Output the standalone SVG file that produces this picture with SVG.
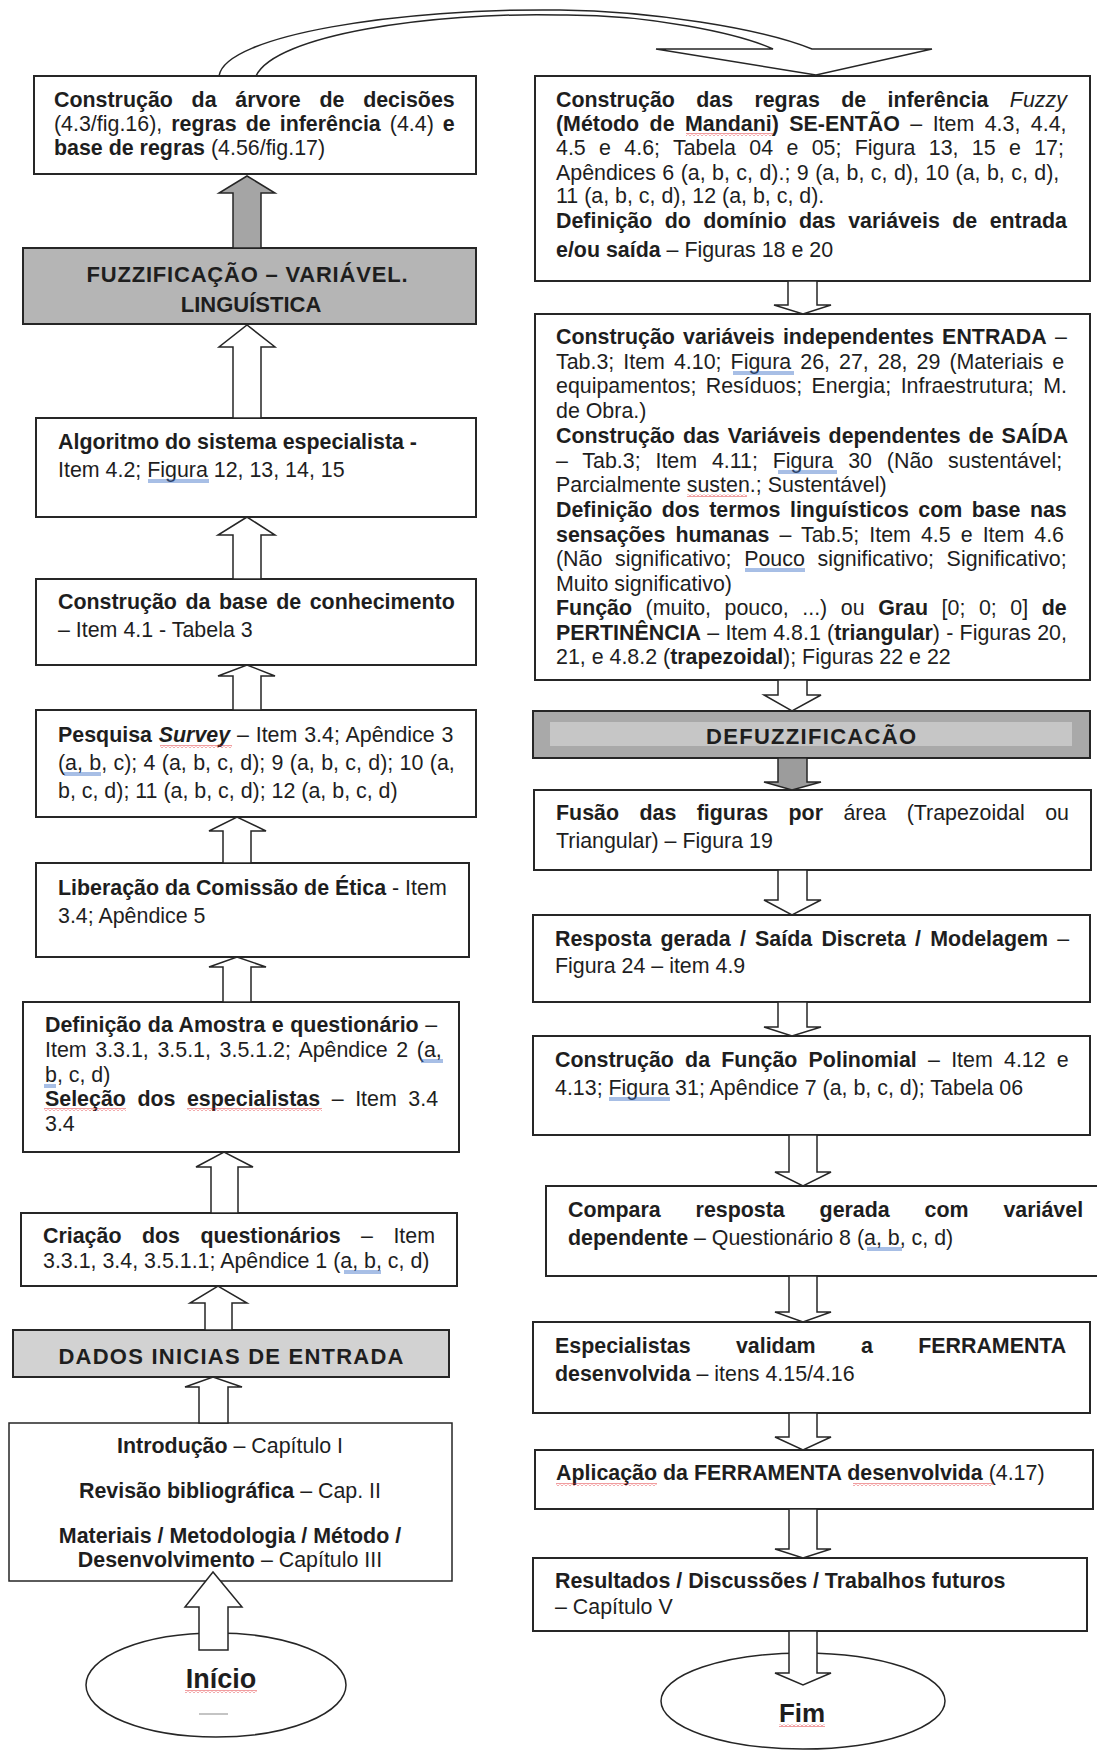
<svg xmlns="http://www.w3.org/2000/svg" width="1097" height="1751" viewBox="0 0 1097 1751">
<style>
.bx{fill:#fff;stroke:#262626;stroke-width:2}
.bxl{fill:#fff;stroke:#262626;stroke-width:1.5}
.g1{fill:#b5b5b5;stroke:#262626;stroke-width:2}
.g2{fill:#d2d2d2;stroke:#262626;stroke-width:2}
.g3{fill:#a9a9a9;stroke:#262626;stroke-width:2}
.ar{fill:#fff;stroke:#262626;stroke-width:1.5;stroke-linejoin:miter}
.arg{fill:#a5a5a5;stroke:#262626;stroke-width:1.5}
.t{font-family:"Liberation Sans",Arial,sans-serif;font-size:21.4px;fill:#1e1e1e}
.h{font-family:"Liberation Sans",Arial,sans-serif;font-weight:700;fill:#1e1e1e}
.b{font-weight:700}
.i{font-style:italic}
.c{text-anchor:middle}
.ul{stroke:#3d6fc6;stroke-width:0.9;fill:none}
</style>
<defs>
<pattern id="wavy" width="4" height="3" patternUnits="userSpaceOnUse">
<path d="M0,2.5 L2,0.5 L4,2.5" fill="none" stroke="#e0262a" stroke-width="0.9"/>
</pattern>
</defs>

<g id="connectors">
<path id="curved" class="ar" d="M219,76 C225,35 400,8 560,10 C650,11 760,28 812,49 L932,49 L816,75 L656,49 L773,49 C740,34 650,14 560,15 C430,12 275,35 256,76 Z"/>
</g>

<g id="nodes">
<g id="n-arvore">
<rect class="bx" x="34" y="76" width="442" height="98"/>
<text class="t b" x="54" y="107" style="word-spacing:12.8px">Construção da árvore de decisões</text>
<text class="t" x="54" y="131" style="word-spacing:3.1px">(4.3/fig.16), <tspan class="b">regras de inferência</tspan> (4.4) <tspan class="b">e</tspan></text>
<text class="t" x="54" y="155"><tspan class="b">base de regras</tspan> (4.56/fig.17)</text>
</g>
<g id="n-fuzz">
<rect class="g1" x="23" y="248" width="453" height="76"/>
<text class="h c" x="247" y="282" font-size="22" textLength="321" lengthAdjust="spacing">FUZZIFICAÇÃO – VARIÁVEL.</text>
<text class="h c" x="251" y="312" font-size="22">LINGUÍSTICA</text>
</g>
<g id="n-algoritmo">
<rect class="bx" x="36" y="418" width="440" height="99"/>
<text class="t b" x="58" y="449">Algoritmo do sistema especialista -</text>
<text class="t" x="58" y="477">Item 4.2; Figura 12, 13, 14, 15</text>
</g>
<g id="n-base">
<rect class="bx" x="36" y="579" width="440" height="86"/>
<text class="t b" x="58" y="609" style="word-spacing:2.6px">Construção da base de conhecimento</text>
<text class="t" x="58" y="637">– Item 4.1 - Tabela 3</text>
</g>
<g id="n-pesquisa">
<rect class="bx" x="36" y="710" width="440" height="107"/>
<text class="t" x="58" y="742" style="word-spacing:0.9px"><tspan class="b">Pesquisa </tspan><tspan class="b i">Survey</tspan> – Item 3.4; Apêndice 3</text>
<text class="t" x="58" y="770" style="word-spacing:0.4px">(a, b, c); 4 (a, b, c, d); 9 (a, b, c, d); 10 (a,</text>
<text class="t" x="58" y="798">b, c, d); 11 (a, b, c, d); 12 (a, b, c, d)</text>
</g>
<g id="n-liberacao">
<rect class="bx" x="36" y="863" width="433" height="94"/>
<text class="t" x="58" y="895"><tspan class="b">Liberação da Comissão de Ética</tspan> - Item</text>
<text class="t" x="58" y="923">3.4; Apêndice 5</text>
</g>
<g id="n-definicao">
<rect class="bx" x="23" y="1002" width="436" height="150"/>
<text class="t" x="45" y="1032" style="word-spacing:0.6px"><tspan class="b">Definição da Amostra e questionário</tspan> –</text>
<text class="t" x="45" y="1057" style="word-spacing:2.7px">Item 3.3.1, 3.5.1, 3.5.1.2; Apêndice 2 (a,</text>
<text class="t" x="45" y="1082">b, c, d)</text>
<text class="t" x="45" y="1106" style="word-spacing:5.6px"><tspan class="b">Seleção dos especialistas</tspan> – Item 3.4</text>
<text class="t" x="45" y="1131">3.4</text>
</g>
<g id="n-criacao">
<rect class="bx" x="21" y="1213" width="436" height="73"/>
<text class="t" x="43" y="1243" style="word-spacing:14.5px"><tspan class="b">Criação dos questionários</tspan> – Item</text>
<text class="t" x="43" y="1268">3.3.1, 3.4, 3.5.1.1; Apêndice 1 (a, b, c, d)</text>
</g>
<g id="n-dados">
<rect class="g2" x="13" y="1330" width="436" height="47"/>
<text class="h c" x="231" y="1364" font-size="22" textLength="345" lengthAdjust="spacing">DADOS INICIAS DE ENTRADA</text>
</g>
<g id="n-intro">
<rect class="bxl" x="9" y="1423" width="443" height="158"/>
<text class="t c" x="230" y="1453"><tspan class="b">Introdução</tspan> – Capítulo I</text>
<text class="t c" x="230" y="1498"><tspan class="b">Revisão bibliográfica</tspan> – Cap. II</text>
<text class="t c b" x="230" y="1543">Materiais / Metodologia / Método /</text>
<text class="t c" x="230" y="1567"><tspan class="b">Desenvolvimento</tspan> – Capítulo III</text>
</g>
<g id="n-inicio">
<ellipse class="bxl" cx="216" cy="1685" rx="130" ry="52"/>
<text class="h c" x="221" y="1688" font-size="27">Início</text>
<line x1="199" y1="1714" x2="228" y2="1714" stroke="#b0b0b0" stroke-width="1.5"/>
</g>

<g id="n-regras">
<rect class="bx" x="535" y="76" width="555" height="205"/>
<text class="t" x="556" y="107" style="word-spacing:15.4px"><tspan class="b">Construção das regras de inferência </tspan><tspan class="i">Fuzzy</tspan></text>
<text class="t" x="556" y="131" style="word-spacing:4.5px"><tspan class="b">(Método de Mandani) SE-ENTÃO</tspan> – Item 4.3, 4.4,</text>
<text class="t" x="556" y="155" style="word-spacing:7.4px">4.5 e 4.6; Tabela 04 e 05; Figura 13, 15 e 17;</text>
<text class="t" x="556" y="180" style="word-spacing:0.5px">Apêndices 6 (a, b, c, d).; 9 (a, b, c, d), 10 (a, b, c, d),</text>
<text class="t" x="556" y="203">11 (a, b, c, d), 12 (a, b, c, d).</text>
<text class="t b" x="556" y="228" style="word-spacing:6.5px">Definição do domínio das variáveis de entrada</text>
<text class="t" x="556" y="257"><tspan class="b">e/ou saída</tspan> – Figuras 18 e 20</text>
</g>
<g id="n-variaveis">
<rect class="bx" x="535" y="314" width="555" height="366"/>
<text class="t" x="556" y="344" style="word-spacing:2.3px"><tspan class="b">Construção variáveis independentes ENTRADA</tspan> –</text>
<text class="t" x="556" y="369" style="word-spacing:3.1px">Tab.3; Item 4.10; Figura 26, 27, 28, 29 (Materiais e</text>
<text class="t" x="556" y="393" style="word-spacing:3.5px">equipamentos; Resíduos; Energia; Infraestrutura; M.</text>
<text class="t" x="556" y="418">de Obra.)</text>
<text class="t b" x="556" y="443" style="word-spacing:2.1px">Construção das Variáveis dependentes de SAÍDA</text>
<text class="t" x="556" y="468" style="word-spacing:8.9px">– Tab.3; Item 4.11; Figura 30 (Não sustentável;</text>
<text class="t" x="556" y="492">Parcialmente susten.; Sustentável)</text>
<text class="t b" x="556" y="517" style="word-spacing:3.5px">Definição dos termos linguísticos com base nas</text>
<text class="t" x="556" y="542" style="word-spacing:4.1px"><tspan class="b">sensações humanas</tspan> – Tab.5; Item 4.5 e Item 4.6</text>
<text class="t" x="556" y="566" style="word-spacing:6.7px">(Não significativo; Pouco significativo; Significativo;</text>
<text class="t" x="556" y="591">Muito significativo)</text>
<text class="t" x="556" y="615" style="word-spacing:7.6px"><tspan class="b">Função</tspan> (muito, pouco, ...) ou <tspan class="b">Grau</tspan> [0; 0; 0] <tspan class="b">de</tspan></text>
<text class="t" x="556" y="640" style="word-spacing:0.3px"><tspan class="b">PERTINÊNCIA</tspan> – Item 4.8.1 (<tspan class="b">triangular</tspan>) - Figuras 20,</text>
<text class="t" x="556" y="664">21, e 4.8.2 (<tspan class="b">trapezoidal</tspan>); Figuras 22 e 22</text>
</g>
<g id="n-defuzz">
<rect class="g3" x="533" y="711" width="557" height="47"/>
<rect x="550" y="722" width="522" height="24" fill="#c6c6c6"/>
<text class="h c" x="811" y="744" font-size="22" textLength="210" lengthAdjust="spacing">DEFUZZIFICACÃO</text>
</g>
<g id="n-fusao">
<rect class="bx" x="534" y="790" width="557" height="80"/>
<text class="t" x="556" y="820" style="word-spacing:14.5px"><tspan class="b">Fusão das figuras por</tspan> área (Trapezoidal ou</text>
<text class="t" x="556" y="848">Triangular) – Figura 19</text>
</g>
<g id="n-resposta">
<rect class="bx" x="533" y="915" width="557" height="87"/>
<text class="t" x="555" y="946" style="word-spacing:3.3px"><tspan class="b">Resposta gerada / Saída Discreta / Modelagem</tspan> –</text>
<text class="t" x="555" y="973">Figura 24 – item 4.9</text>
</g>
<g id="n-polinomial">
<rect class="bx" x="533" y="1036" width="557" height="99"/>
<text class="t" x="555" y="1067" style="word-spacing:5.3px"><tspan class="b">Construção da Função Polinomial</tspan> – Item 4.12 e</text>
<text class="t" x="555" y="1095">4.13; Figura 31; Apêndice 7 (a, b, c, d); Tabela 06</text>
</g>
<g id="n-compara">
<rect class="bx" x="546" y="1186" width="560" height="90"/>
<text class="t b" x="568" y="1217" style="word-spacing:28.9px">Compara resposta gerada com variável</text>
<text class="t" x="568" y="1245"><tspan class="b">dependente</tspan> – Questionário 8 (a, b, c, d)</text>
</g>
<g id="n-especialistas">
<rect class="bx" x="533" y="1322" width="557" height="91"/>
<text class="t b" x="555" y="1353" style="word-spacing:39.4px">Especialistas validam a FERRAMENTA</text>
<text class="t" x="555" y="1381"><tspan class="b">desenvolvida</tspan> – itens 4.15/4.16</text>
</g>
<g id="n-aplicacao">
<rect class="bx" x="535" y="1450" width="558" height="59"/>
<text class="t" x="556" y="1480"><tspan class="b">Aplicação da FERRAMENTA desenvolvida</tspan> (4.17)</text>
</g>
<g id="n-resultados">
<rect class="bx" x="533" y="1558" width="554" height="73"/>
<text class="t b" x="555" y="1588">Resultados / Discussões / Trabalhos futuros</text>
<text class="t" x="555" y="1614">– Capítulo V</text>
</g>
<g id="n-fim">
<ellipse class="bxl" cx="803" cy="1701" rx="142" ry="48"/>
<text class="h c" x="802" y="1722" font-size="26">Fim</text>
</g>
</g>

<g id="arrows">
<polygon class="arg" points="233,248 233,193 219,193 247,176 275,193 261,193 261,248"/>
<polygon class="ar" points="233,418 233,347 219,347 247,325 275,347 261,347 261,418"/>
<polygon class="ar" points="233,579 233,535 218,535 247,517 275,535 261,535 261,579"/>
<polygon class="ar" points="233,710 233,676 218,676 247,665 275,676 261,676 261,710"/>
<polygon class="ar" points="223,863 223,831 209,831 237,817 266,831 251,831 251,863"/>
<polygon class="ar" points="223,1002 223,967 209,967 237,957 266,967 251,967 251,1002"/>
<polygon class="ar" points="211,1213 211,1167 196,1167 224,1152 253,1167 238,1167 238,1213"/>
<polygon class="ar" points="205,1330 205,1303 190,1303 218,1286 247,1303 232,1303 232,1330"/>
<polygon class="ar" points="199,1423 199,1387 185,1387 213,1377 242,1387 228,1387 228,1423"/>
<polygon class="ar" points="199,1650 199,1607 185,1607 213,1572 242,1607 228,1607 228,1650"/>

<polygon class="ar" points="788,281 788,305 774,305 803,314 831,305 817,305 817,281"/>
<polygon class="ar" points="778,680 778,695 764,695 792,711 821,695 807,695 807,680"/>
<polygon class="arg" points="778,758 778,782 764,782 792,790 821,782 807,782 807,758" style="fill:#9c9c9c"/>
<polygon class="ar" points="778,870 778,900 764,900 792,915 821,900 807,900 807,870"/>
<polygon class="ar" points="778,1002 778,1027 764,1027 792,1036 821,1027 807,1027 807,1002"/>
<polygon class="ar" points="789,1135 789,1172 775,1172 803,1186 831,1172 817,1172 817,1135"/>
<polygon class="ar" points="789,1276 789,1312 775,1312 803,1322 831,1312 817,1312 817,1276"/>
<polygon class="ar" points="789,1413 789,1437 775,1437 803,1450 831,1437 817,1437 817,1413"/>
<polygon class="ar" points="789,1509 789,1549 775,1549 803,1558 831,1549 817,1549 817,1509"/>
<polygon class="ar" points="789,1631 789,1673 775,1673 803,1685 831,1673 817,1673 817,1631"/>
</g>

<g id="proofing-marks">
<path class="ul" d="M148,480H209M148,482H209 M64,773H101M64,775H101 M421,1060H443M421,1062H443 M44,1085H56M44,1087H56 M344,1271H381M344,1273H381 M733,372H794M733,374H794 M778,471H837M778,473H837 M745,569H805M745,571H805 M609,1098H670M609,1100H670 M867,1248H902M867,1250H902"/>
<rect x="686" y="133" width="87" height="3" fill="url(#wavy)"/>
<rect x="160" y="745" width="72" height="3" fill="url(#wavy)"/>
<rect x="687" y="494" width="60" height="3" fill="url(#wavy)"/>
<rect x="44" y="1108" width="82" height="3" fill="url(#wavy)"/>
<rect x="187" y="1108" width="135" height="3" fill="url(#wavy)"/>
<rect x="185" y="1690" width="72" height="3" fill="url(#wavy)"/>
<rect x="556" y="1483" width="101" height="3" fill="url(#wavy)"/>
<rect x="853" y="1483" width="140" height="3" fill="url(#wavy)"/>
<rect x="779" y="1724" width="46" height="3" fill="url(#wavy)"/>
</g>
</svg>
